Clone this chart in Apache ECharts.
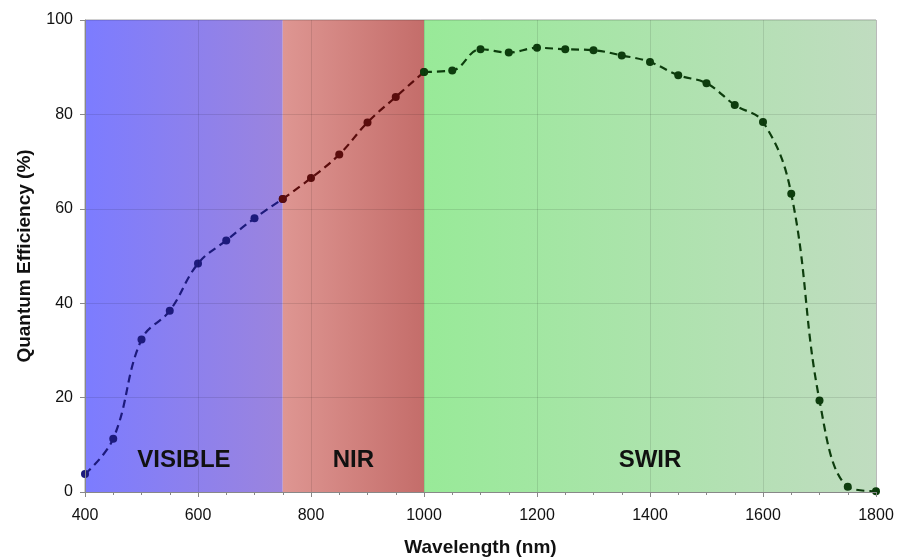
<!DOCTYPE html>
<html>
<head>
<meta charset="utf-8">
<script src="https://cdn.jsdelivr.net/npm/echarts@6/dist/echarts.min.js"></script>
<style>
  html, body { margin: 0; padding: 0; background: #fff; }
  #main { width: 905px; height: 557px; }
</style>
</head>
<body>
<div id="main"></div>
<script>
// wavelength (nm) and quantum efficiency (%)
var wavelengths = [400, 450, 500, 550, 600, 650, 700, 750, 800, 850, 900, 950, 1000,
                   1050, 1100, 1150, 1200, 1250, 1300, 1350, 1400, 1450, 1500, 1550,
                   1600, 1650, 1700, 1750, 1800];
var qe = [3.8, 11.3, 32.3, 38.4, 48.4, 53.3, 58.0, 62.1, 66.5, 71.5, 78.3, 83.7, 89.0,
          89.3, 93.8, 93.1, 94.1, 93.8, 93.6, 92.5, 91.1, 88.3, 86.6, 82.0,
          78.4, 63.2, 19.4, 1.1, 0.15];
var bands = [
    {name: 'VISIBLE', from: 400, to: 750},
    {name: 'NIR', from: 750, to: 1000},
    {name: 'SWIR', from: 1000, to: 1800}
];
var bandFill = [
    ['#7c7cff', '#9b84de'],
    ['#de9692', '#c46d6a'],
    ['#98ea98', '#c0dcc0']
];
var lineColors = ['#1d1a7c', '#5a0c0c', '#0d3d0d'];

var myChart = echarts.init(document.getElementById('main'));

function pointsIn(b) {
    var out = [];
    for (var i = 0; i < wavelengths.length; i++) {
        if (wavelengths[i] >= b.from && wavelengths[i] <= b.to) out.push([wavelengths[i], qe[i]]);
    }
    return out;
}

var series = bands.map(function (b, k) {
    return {
        type: 'line',
        data: pointsIn(b),
        smooth: 0.4,
        symbol: 'circle',
        symbolSize: 8,
        z: 3 + k,
        lineStyle: {color: lineColors[k], width: 2.2, type: [8, 5]},
        itemStyle: {color: lineColors[k]},
        markArea: {
            silent: true,
            z: 1,
            itemStyle: {
                color: new echarts.graphic.LinearGradient(0, 0, 1, 0, [
                    {offset: 0, color: bandFill[k][0]},
                    {offset: 1, color: bandFill[k][1]}
                ])
            },
            label: {
                show: true,
                position: 'insideBottom',
                distance: 20,
                color: '#111',
                fontSize: 24,
                fontWeight: 'bold',
                fontFamily: 'Liberation Sans, Arial, sans-serif'
            },
            data: [[{name: b.name, xAxis: b.from, yAxis: 0}, {xAxis: b.to, yAxis: 100}]]
        }
    };
});

var option = {
    animation: false,
    backgroundColor: '#fff',
    textStyle: {fontFamily: 'Liberation Sans, Arial, sans-serif'},
    grid: {
        left: 85, right: 29, top: 20, bottom: 65,
        outerBoundsMode: 'none', containLabel: false,
        show: true, borderColor: '#a0a0a0', borderWidth: 1
    },
    xAxis: {
        type: 'value',
        min: 400,
        max: 1800,
        interval: 200,
        name: 'Wavelength (nm)',
        nameLocation: 'middle',
        nameGap: 46,
        nameTextStyle: {fontSize: 19, fontWeight: 'bold', color: '#111'},
        axisLine: {lineStyle: {color: '#888'}},
        axisTick: {lineStyle: {color: '#888'}, length: 5},
        minorTick: {show: true, splitNumber: 4, length: 3, lineStyle: {color: '#888'}},
        axisLabel: {fontSize: 16, color: '#111', margin: 16, formatter: function (v) { return String(v); }},
        splitLine: {show: true, lineStyle: {color: 'rgba(0,0,0,0.1)'}},
        z: 10
    },
    yAxis: {
        type: 'value',
        min: 0,
        max: 100,
        interval: 20,
        name: 'Quantum Efficiency (%)',
        nameLocation: 'middle',
        nameGap: 51,
        nameTextStyle: {fontSize: 19, fontWeight: 'bold', color: '#111'},
        axisLine: {show: true, lineStyle: {color: '#888'}},
        axisTick: {show: true, lineStyle: {color: '#888'}, length: 5},
        axisLabel: {fontSize: 16, color: '#111', margin: 12},
        splitLine: {show: true, lineStyle: {color: 'rgba(0,0,0,0.1)'}},
        z: 10
    },
    series: series
};
myChart.setOption(option);
</script>
</body>
</html>
